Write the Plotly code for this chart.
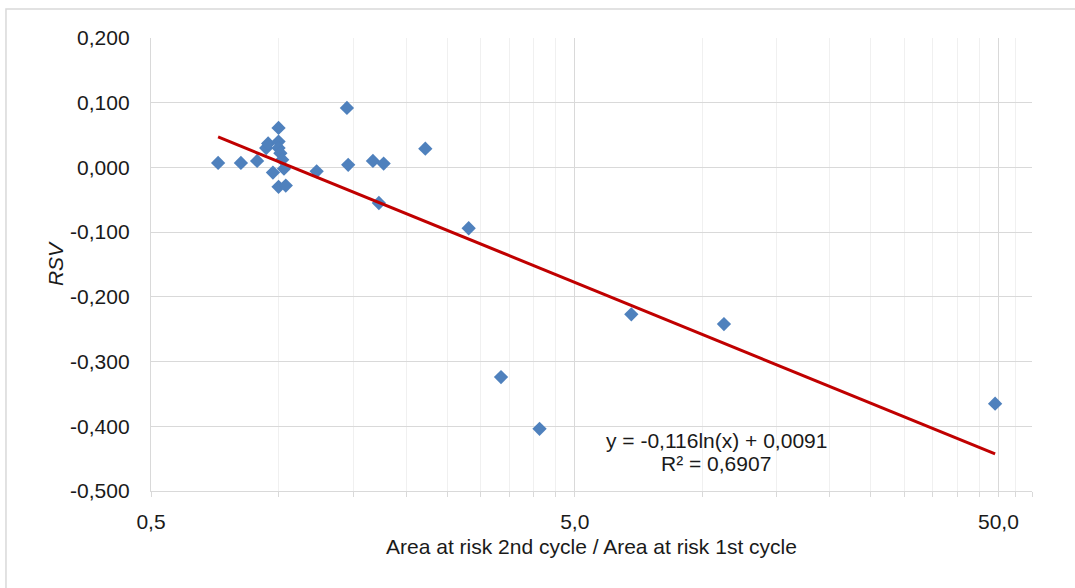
import numpy as np
import plotly.graph_objects as go

# Ratio of area at risk (2nd cycle / 1st cycle) and the matching RSV values
area_ratio = [0.72, 0.815, 0.89, 0.935, 0.945, 1.0, 1.0, 1.0, 1.01, 1.02,
              0.97, 1.03, 1.0, 1.04, 1.23, 1.45, 1.46, 1.67, 1.77, 1.725,
              2.22, 2.81, 3.35, 4.13, 6.8, 11.25, 49.1]
rsv = [0.007, 0.007, 0.010, 0.030, 0.037, 0.061, 0.040, 0.030, 0.022, 0.012,
       -0.008, -0.002, -0.030, -0.028, -0.006, 0.092, 0.004, 0.010, 0.006, -0.055,
       0.029, -0.094, -0.324, -0.404, -0.227, -0.242, -0.365]

# Logarithmic trend line y = a*ln(x) + b
trend_a = -0.116
trend_b = 0.0091
r_squared = "0,6907"

x_major = [0.5, 5, 50]
x_major_text = ["0,5", "5,0", "50,0"]
x_minor = [1, 1.5, 2, 2.5, 3, 3.5, 4, 4.5,
           10, 15, 20, 25, 30, 35, 40, 45, 55, 60]
y_ticks = [-0.5, -0.4, -0.3, -0.2, -0.1, 0.0, 0.1, 0.2]
y_tick_text = [f"{v:.3f}".replace(".", ",").replace("-0,000", "0,000")
               for v in y_ticks]

font_family = "Arial, Liberation Sans, sans-serif"
text_color = "#1a1a1a"
fs = 21

fig = go.Figure()

fig.add_trace(go.Scatter(
    x=area_ratio, y=rsv, mode="markers",
    marker=dict(symbol="diamond", size=11, color="#4F81BD",
                line=dict(width=0)),
    showlegend=False,
))

trend_x = np.logspace(np.log10(min(area_ratio)), np.log10(max(area_ratio)), 100)
trend_y = trend_a * np.log(trend_x) + trend_b
fig.add_trace(go.Scatter(
    x=trend_x, y=trend_y, mode="lines",
    line=dict(color="#C00000", width=3),
    showlegend=False,
))

# trend line equation and fit quality, one annotation per line
eq_line = f"y = {trend_a:.3f}ln(x) + {trend_b:.4f}".replace(".", ",")
r2_line = f"R² = {r_squared}"
for txt, ypos in [(eq_line, -0.4213), (r2_line, -0.4569)]:
    fig.add_annotation(
        x=np.log10(10.8), y=ypos, xref="x", yref="y",
        text=txt, showarrow=False, align="center",
        xanchor="center", yanchor="middle",
        font=dict(family=font_family, size=fs, color=text_color),
    )

# outer chart frame
fig.add_shape(type="rect", xref="paper", yref="paper",
              x0=-0.1646, x1=1.06, y0=-0.25, y1=1.064,
              line=dict(color="#D9D9D9", width=1.5), layer="below")

fig.update_layout(
    width=1075, height=588,
    margin=dict(l=151, r=43, t=38, b=97),
    paper_bgcolor="white", plot_bgcolor="white",
    font=dict(family=font_family, size=fs, color=text_color),
    xaxis=dict(
        type="log",
        range=[np.log10(0.5), np.log10(60)],
        tickmode="array", tickvals=x_major, ticktext=x_major_text,
        showgrid=True, gridcolor="#D9D9D9", gridwidth=1.3,
        ticks="outside", ticklen=5, tickcolor="#D9D9D9",
        ticklabelstandoff=7,
        showline=True, linecolor="#D9D9D9", linewidth=1.3,
        zeroline=False,
        tickfont=dict(size=fs, color=text_color),
        minor=dict(tickmode="array", tickvals=x_minor,
                   showgrid=True, gridcolor="#F0F0F0", gridwidth=1.3,
                   ticks="outside", ticklen=5, tickcolor="#D9D9D9"),
        title=dict(text="Area at risk 2nd cycle / Area at risk 1st cycle",
                   font=dict(size=fs, color=text_color), standoff=6),
    ),
    yaxis=dict(
        range=[-0.5, 0.2],
        tickmode="array", tickvals=y_ticks, ticktext=y_tick_text,
        showgrid=True, gridcolor="#D9D9D9", gridwidth=1.3,
        zeroline=False,
        showline=True, linecolor="#D9D9D9", linewidth=1.3,
        ticks="", ticklabelstandoff=16,
        tickfont=dict(size=fs, color=text_color),
        title=dict(text="<i>RSV</i>", font=dict(size=fs, color=text_color),
                   standoff=0),
    ),
)

fig.write_html("out.html")
